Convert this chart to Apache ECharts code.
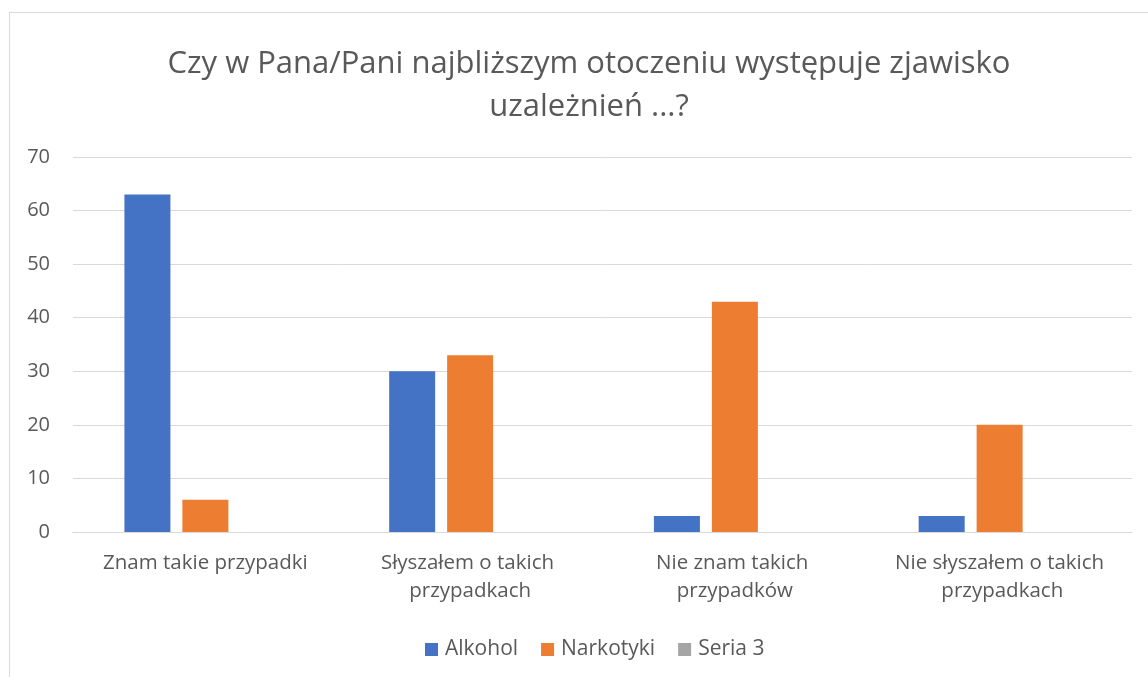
<!DOCTYPE html>
<html>
<head>
<meta charset="utf-8">
<script src="https://cdn.jsdelivr.net/npm/echarts@6/dist/echarts.min.js"></script>
<style>
  html, body { margin: 0; padding: 0; background: #fff; }
  #frame { position: absolute; left: 9px; top: 12px; width: 1160px; height: 700px; border: 1px solid #d9d9d9; box-sizing: border-box; }
  #chart { width: 1148px; height: 677px; }
</style>
</head>
<body>
<div id="frame"></div>
<div id="chart"></div>
<script>
  var titleText = 'Czy w Pana/Pani najbliższym otoczeniu występuje zjawisko\nuzależnień ...?';
  var categories = ['Znam takie przypadki', 'Słyszałem o takich przypadkach', 'Nie znam takich przypadków', 'Nie słyszałem o takich przypadkach'];
  var alkohol = [63, 30, 3, 3];
  var narkotyki = [6, 33, 43, 20];
  var seria3 = [null, null, null, null];
  var yTicks = [0, 10, 20, 30, 40, 50, 60, 70];

  var font = '"Open Sans", "Noto Sans", sans-serif';
  var chart = echarts.init(document.getElementById('chart'));

  chart.setOption({
    animation: false,
    backgroundColor: 'transparent',
    color: ['#4472c4', '#ed7d31', '#a5a5a5'],
    title: {
      text: titleText,
      left: 584,
      textAlign: 'center',
      top: 38,
      textStyle: {
        fontFamily: font,
        fontWeight: 'normal',
        fontSize: 31,
        lineHeight: 43,
        color: '#595959'
      }
    },
    legend: {
      data: ['Alkohol', 'Narkotyki', 'Seria 3'],
      left: 420,
      top: 634,
      icon: 'rect',
      itemWidth: 13,
      itemHeight: 13,
      itemGap: 23,
      textStyle: { fontFamily: font, fontSize: 21, color: '#595959', padding: [0, 0, 0, 2] }
    },
    grid: { left: 73, right: 16, top: 157, bottom: 145 },
    xAxis: {
      type: 'category',
      data: categories,
      axisLine: { lineStyle: { color: '#d9d9d9', width: 1 } },
      axisTick: { show: false },
      axisLabel: {
        interval: 0,
        margin: 17,
        width: 245,
        overflow: 'break',
        lineHeight: 28,
        fontFamily: font,
        fontSize: 20.5,
        color: '#595959'
      }
    },
    yAxis: {
      type: 'value',
      min: yTicks[0],
      max: yTicks[yTicks.length - 1],
      interval: 10,
      axisLine: { show: false },
      axisTick: { show: false },
      splitLine: { lineStyle: { color: '#d9d9d9', width: 1 } },
      axisLabel: { margin: 23, fontFamily: font, fontSize: 20, color: '#595959' }
    },
    series: [
      { name: 'Alkohol', type: 'bar', data: alkohol, barWidth: 46, barGap: '26%' },
      { name: 'Narkotyki', type: 'bar', data: narkotyki, barWidth: 46, barGap: '26%' },
      { name: 'Seria 3', type: 'bar', data: seria3, barWidth: 46, barGap: '26%' }
    ]
  });
</script>
</body>
</html>
